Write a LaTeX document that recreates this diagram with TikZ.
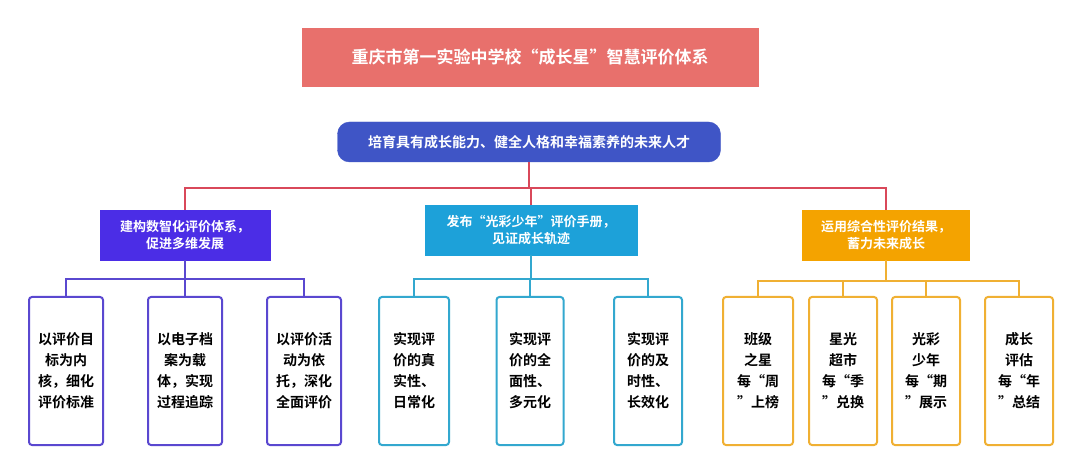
\documentclass[tikz,border=0pt]{standalone}
\usepackage{fontspec}
\setmainfont{Noto Sans CJK SC}[BoldFont={Noto Sans CJK SC Bold}]
\begin{document}
\begin{tikzpicture}[x=1pt,y=-1pt,
  hb/.style={draw=#1,fill=#1,text=white,font=\bfseries\fontsize{13}{17}\selectfont,align=center,inner sep=0pt},
  ln/.style={draw=#1,line width=2.5pt}]
\definecolor{tred}{HTML}{E8706C}
\definecolor{goal}{HTML}{3F55C6}
\definecolor{pur}{HTML}{4B2DE6}
\definecolor{blu}{HTML}{1DA1D9}
\definecolor{ora}{HTML}{F4A300}
\definecolor{redl}{HTML}{D9485A}
\definecolor{pl}{HTML}{5A48D0}
\definecolor{bl}{HTML}{33A8CF}
\definecolor{ol}{HTML}{F0B033}
\useasboundingbox (0,0) rectangle (1080,473);
\fill[white] (0,0) rectangle (1080,473);
\node[hb=tred,minimum width=456pt,minimum height=58pt,font=\bfseries\fontsize{17}{20}\selectfont] (t) at (530,57) {重庆市第一实验中学校“成长星”智慧评价体系};
\node[hb=goal,minimum width=383pt,minimum height=40pt,rounded corners=12pt,font=\bfseries\fontsize{14}{16}\selectfont] (g) at (529,142) {培育具有成长能力、健全人格和幸福素养的未来人才};
\node[hb=pur,minimum width=170pt,minimum height=50pt] (a) at (185,235) {建构数智化评价体系，\\促进多维发展};
\node[hb=blu,minimum width=212pt,minimum height=50pt] (b) at (531,230) {发布“光彩少年”评价手册，\\见证成长轨迹};
\node[hb=ora,minimum width=167pt,minimum height=50pt] (c) at (886,235) {运用综合性评价结果，\\蓄力未来成长};
\coordinate (rb) at (529,188);
\draw[ln=redl] (g.south) -- (rb);
\draw[ln=redl] (a.north) |- (rb) -| (c.north);
\draw[ln=redl] (b.north) -- (b.north |- rb);
\tikzset{lf/.style={draw=#1,line width=2pt,fill=white,rounded corners=3pt,minimum height=148pt,minimum width=74pt,align=center,font=\bfseries\fontsize{14}{21}\selectfont,inner sep=0pt}}
\node[lf=pl] (a1) at (66,371) {以评价目\\标为内\\核，细化\\评价标准};
\node[lf=pl] (a2) at (185,371) {以电子档\\案为载\\体，实现\\过程追踪};
\node[lf=pl] (a3) at (304,371) {以评价活\\动为依\\托，深化\\全面评价};
\node[lf=bl,minimum width=70pt] (b1) at (414,371) {实现评\\价的真\\实性、\\日常化};
\node[lf=bl,minimum width=67pt] (b2) at (530,371) {实现评\\价的全\\面性、\\多元化};
\node[lf=bl,minimum width=68pt] (b3) at (648,371) {实现评\\价的及\\时性、\\长效化};
\node[lf=ol,minimum width=70pt] (c1) at (758,371) {班级\\之星\\每“周\\”上榜};
\node[lf=ol,minimum width=68pt] (c2) at (843,371) {星光\\超市\\每“季\\”兑换};
\node[lf=ol,minimum width=68pt] (c3) at (926,371) {光彩\\少年\\每“期\\”展示};
\node[lf=ol,minimum width=68pt] (c4) at (1019,371) {成长\\评估\\每“年\\”总结};
\coordinate (ab) at (185,279);
\coordinate (bb) at (531,279);
\coordinate (cb) at (886,281);
\draw[ln=pl] (a.south) -- (ab);
\draw[ln=pl] (a1.north) |- (ab) -| (a3.north);
\draw[ln=pl] (a2.north) -- (a2.north |- ab);
\draw[ln=bl] (b.south) -- (bb);
\draw[ln=bl] (b1.north) |- (bb) -| (b3.north);
\draw[ln=bl] (b2.north) -- (b2.north |- bb);
\draw[ln=ol] (c.south) -- (cb);
\draw[ln=ol] (c1.north) |- (cb) -| (c4.north);
\draw[ln=ol] (c2.north) -- (c2.north |- cb);
\draw[ln=ol] (c3.north) -- (c3.north |- cb);
\end{tikzpicture}
\end{document}
